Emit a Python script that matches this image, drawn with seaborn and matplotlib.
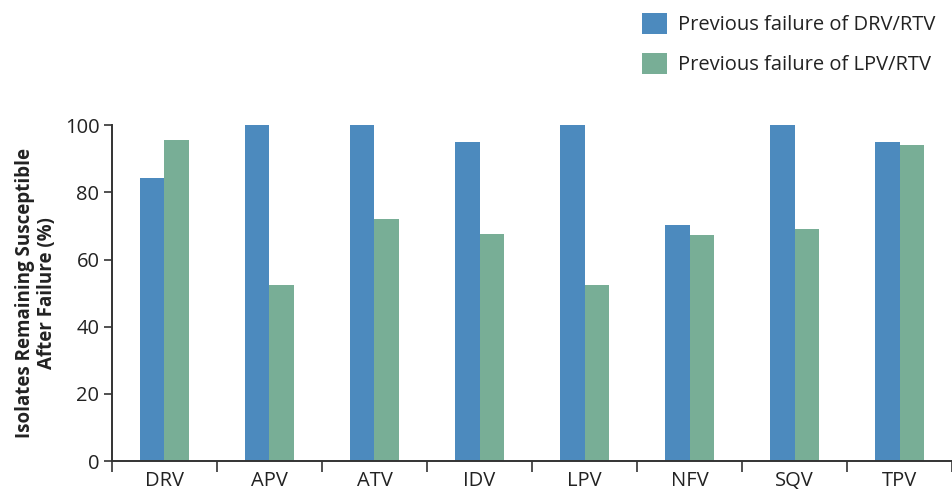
import numpy as np
import pandas as pd
import matplotlib.pyplot as plt
from matplotlib.ticker import FixedLocator
import seaborn as sns

sns.set_style("white")
plt.rcParams['font.family'] = ['Open Sans', 'DejaVu Sans']

drugs = ["DRV", "APV", "ATV", "IDV", "LPV", "NFV", "SQV", "TPV"]
drv_rtv = [84.2, 100, 100, 95.1, 100, 70.2, 100, 95.1]
lpv_rtv = [95.5, 52.4, 72.0, 67.7, 52.4, 67.4, 69.2, 94.2]
series = ["Previous failure of DRV/RTV", "Previous failure of LPV/RTV"]
colors = ["#4C8ABE", "#78AE96"]

df = pd.DataFrame({
    "drug": drugs * 2,
    "value": drv_rtv + lpv_rtv,
    "group": [series[0]] * len(drugs) + [series[1]] * len(drugs),
})

fig = plt.figure(figsize=(9.53, 4.91), dpi=100)
ax = fig.add_axes([0.1175, 0.061, 0.8815, 0.684])

sns.barplot(data=df, x="drug", y="value", hue="group", palette=colors,
            width=0.46, gap=0, saturation=1, linewidth=0, ax=ax)

ax.set_xlim(-0.5, len(drugs) - 0.5)
ax.set_ylim(0, 100)
ax.set_yticks([0, 20, 40, 60, 80, 100])
ax.tick_params(axis="y", direction="out", length=6, width=1.2, color="#333333",
               labelsize=14.5, labelcolor="#222222", pad=3, left=True)
ax.tick_params(axis="x", which="major", length=0, labelsize=14.5,
               labelcolor="#222222", pad=7)
ax.xaxis.set_minor_locator(FixedLocator(np.arange(-0.5, len(drugs), 1.0)))
ax.tick_params(axis="x", which="minor", direction="out", length=8, width=1.2,
               color="#333333", bottom=True)

for s in ["top", "right"]:
    ax.spines[s].set_visible(False)
for s in ["left", "bottom"]:
    ax.spines[s].set_color("#333333")
    ax.spines[s].set_linewidth(1.4)

ax.set_xlabel("")
ax.set_ylabel("Isolates Remaining Susceptible\nAfter Failure (%)",
              fontsize=13.5, fontweight="bold", color="#222222", labelpad=6,
              linespacing=1.1)

handles, labels = ax.get_legend_handles_labels()
ax.legend(handles, labels, loc="upper left", bbox_to_anchor=(0.665, 0.99),
          bbox_transform=fig.transFigure, frameon=False, fontsize=14.5,
          handlelength=1.25, handleheight=1.25, handletextpad=0.55,
          labelspacing=0.85, labelcolor="#222222", borderaxespad=0)

fig.savefig("out.png", dpi=100)
